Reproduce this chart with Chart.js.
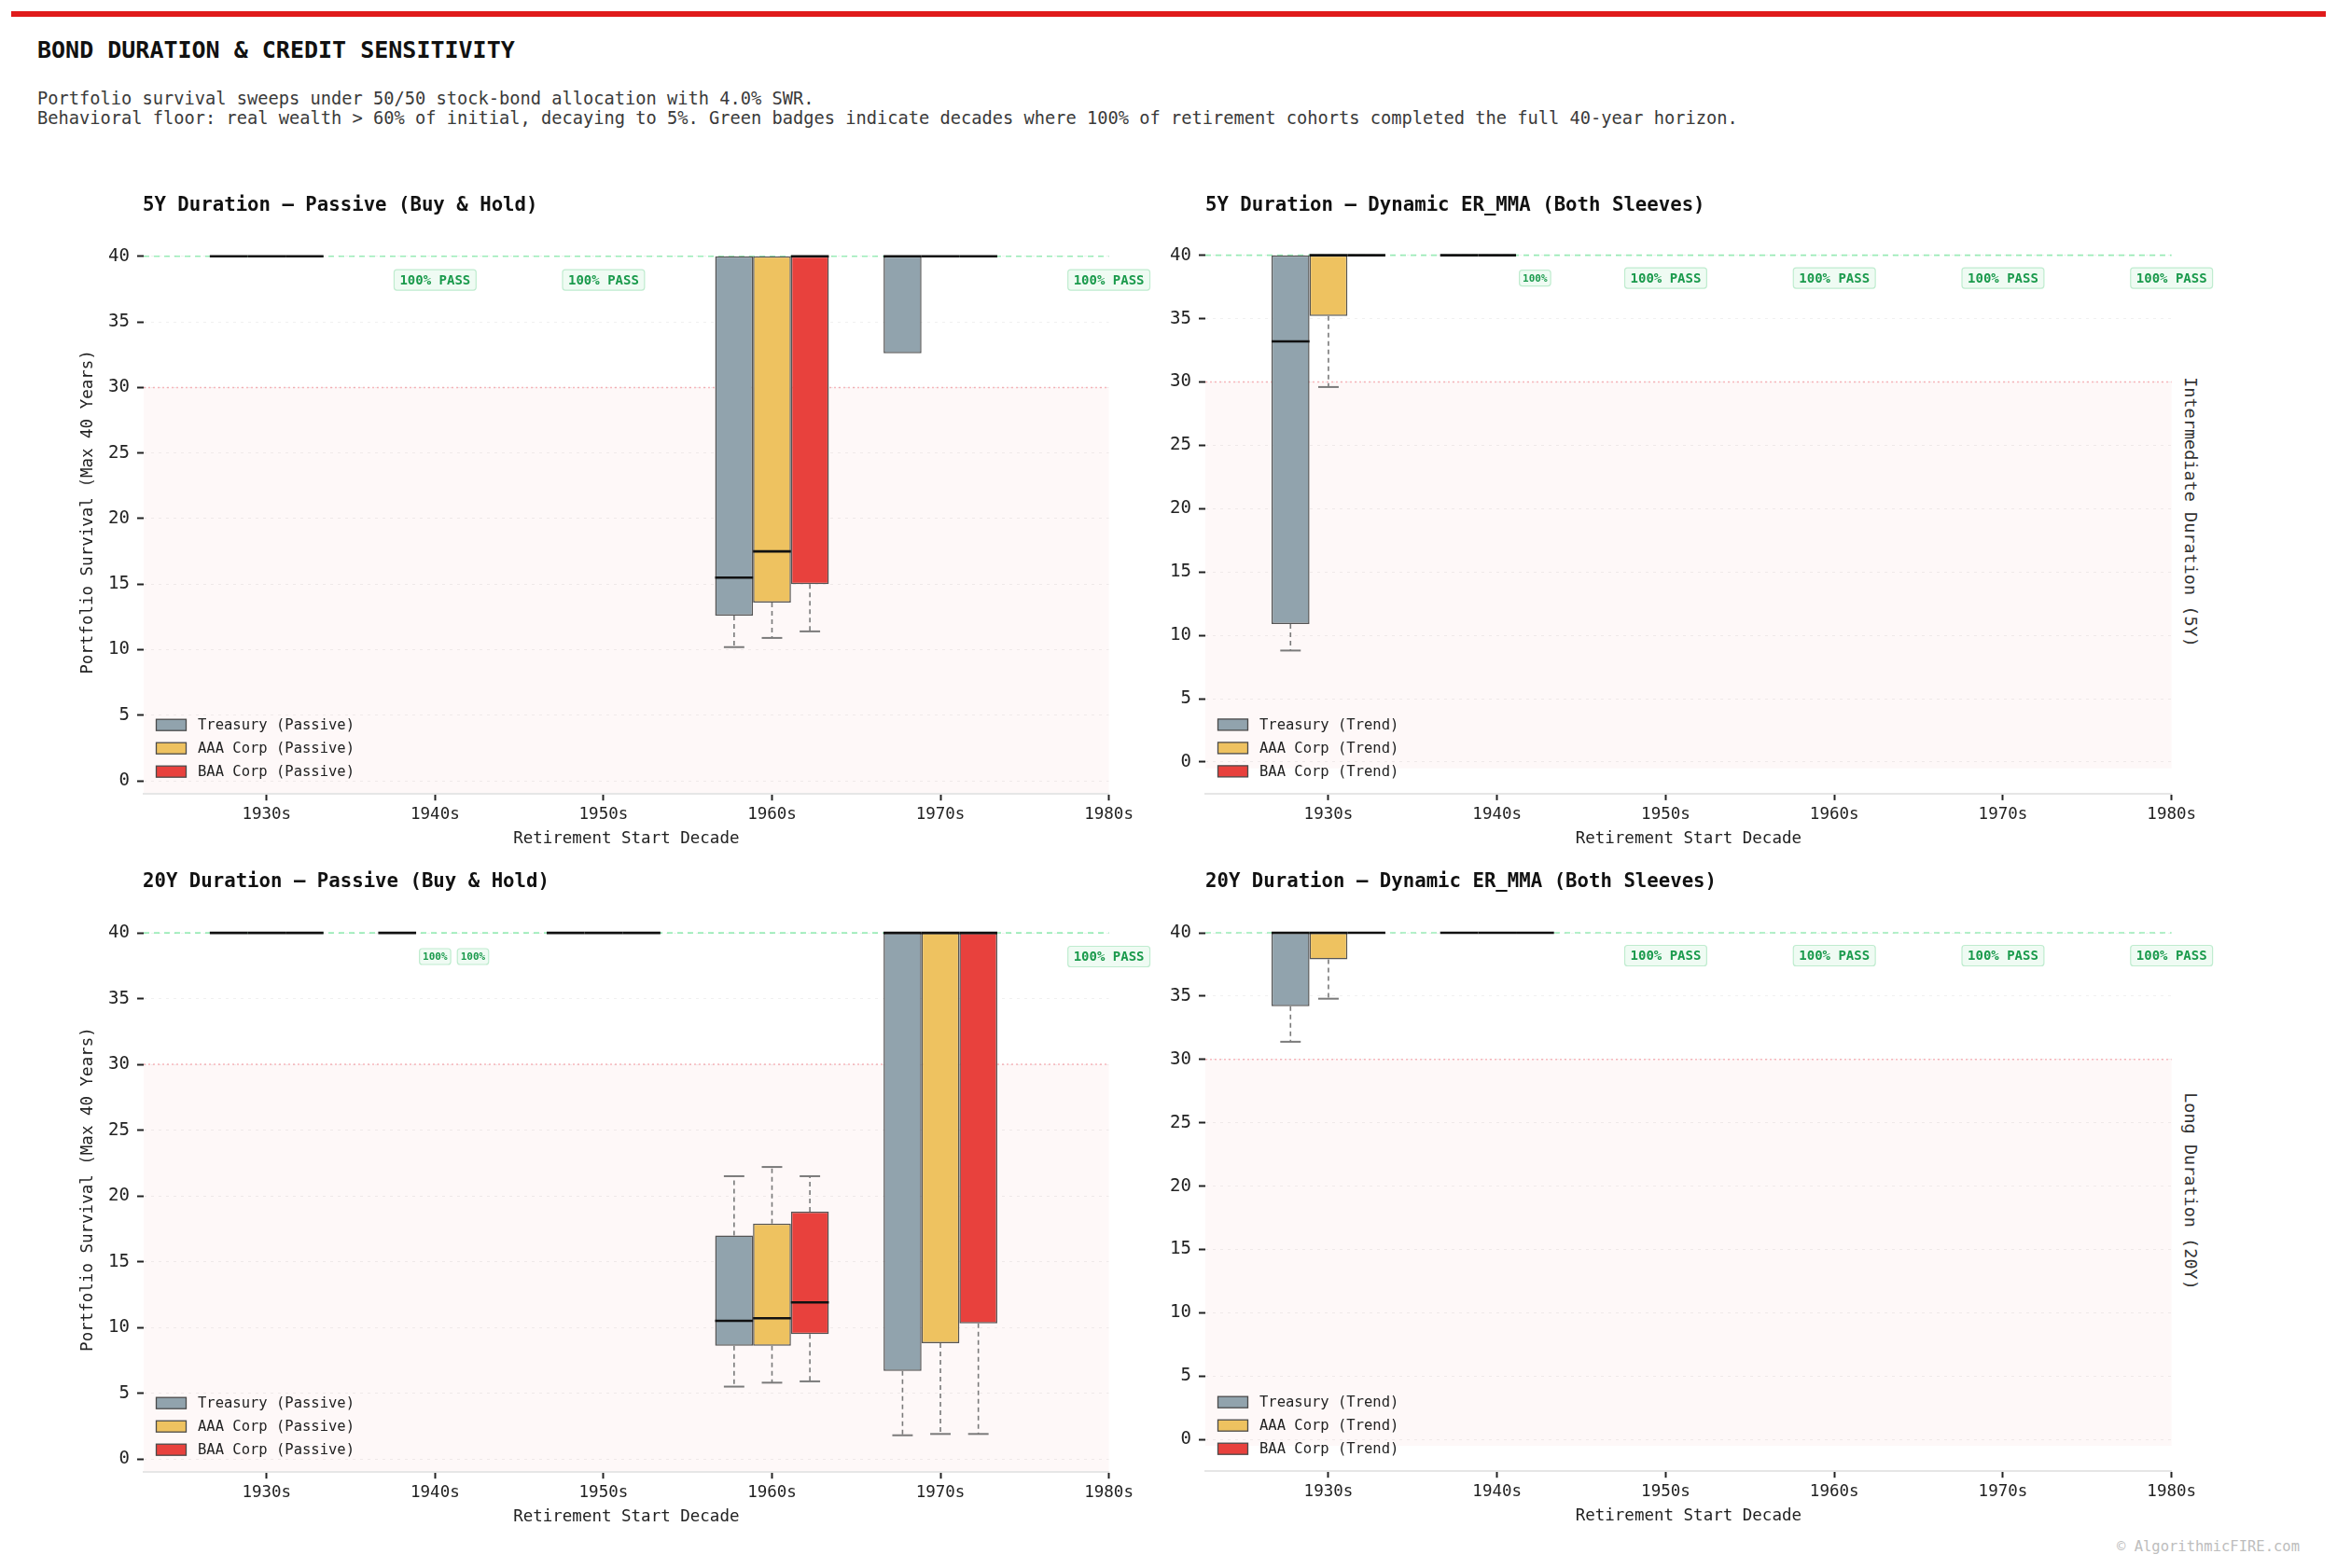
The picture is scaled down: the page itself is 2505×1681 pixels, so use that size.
<!DOCTYPE html>
<html>
<head>
<meta charset="utf-8">
<script src="https://cdn.jsdelivr.net/npm/chart.js@4.4.1/dist/chart.umd.min.js"></script>
<style>
html,body{margin:0;padding:0;background:#fff;}
body{width:2505px;height:1681px;position:relative;overflow:hidden;font-family:"DejaVu Sans Mono",monospace;}
.abs{position:absolute;white-space:nowrap;}
#bar{left:12px;top:12px;width:2481px;height:6px;background:#e01b1b;}
#title{left:40px;top:39px;font-size:25px;line-height:30px;font-weight:bold;color:#111;}
#sub{left:40px;top:95px;font-size:18.7px;line-height:21px;color:#3a3a3a;}
.ptitle{font-size:20.7px;line-height:24px;font-weight:bold;color:#111;z-index:2;}
.rlabel{writing-mode:vertical-rl;font-size:18.5px;line-height:22px;color:#333;transform:translate(-50%,-50%);}
#footer{right:40px;top:1648px;font-size:15.5px;line-height:20px;color:#bdbdbd;}
canvas{position:absolute;}
</style>
</head>
<body>
<div id="bar" class="abs"></div>
<div id="title" class="abs">BOND DURATION &amp; CREDIT SENSITIVITY</div>
<div id="sub" class="abs">Portfolio survival sweeps under 50/50 stock-bond allocation with 4.0% SWR.<br>Behavioral floor: real wealth &gt; 60% of initial, decaying to 5%. Green badges indicate decades where 100% of retirement cohorts completed the full 40-year horizon.</div>
<div class="abs ptitle" style="left:153px;top:207px;">5Y Duration — Passive (Buy &amp; Hold)</div>
<div class="abs ptitle" style="left:1292px;top:207px;">5Y Duration — Dynamic ER_MMA (Both Sleeves)</div>
<div class="abs ptitle" style="left:153px;top:932px;">20Y Duration — Passive (Buy &amp; Hold)</div>
<div class="abs ptitle" style="left:1292px;top:932px;">20Y Duration — Dynamic ER_MMA (Both Sleeves)</div>
<div class="abs rlabel" style="left:2348px;top:549px;">Intermediate Duration (5Y)</div>
<div class="abs rlabel" style="left:2348px;top:1277px;">Long Duration (20Y)</div>
<div id="footer" class="abs">© AlgorithmicFIRE.com</div>
<script>
// ---------------- DATA ----------------
const decades = ['1930s', '1940s', '1950s', '1960s', '1970s', '1980s'];
const bondSeries = ['Treasury', 'AAA Corp', 'BAA Corp'];
// Each entry: [lower whisker, Q1, median, Q3, upper whisker] (years survived); null = 100% of cohorts survived
const int5PassiveTreasury = [[40,40,40,40,40], null, null, [10.2,12.6,15.5,40,40], [32.6,32.6,40,40,40], null];
const int5PassiveAAA      = [[40,40,40,40,40], null, null, [10.9,13.6,17.5,40,40], [40,40,40,40,40], null];
const int5PassiveBAA      = [[40,40,40,40,40], null, null, [11.4,15.0,40,40,40], [40,40,40,40,40], null];
const int5TrendTreasury   = [[8.8,10.9,33.2,40,40], [40,40,40,40,40], null, null, null, null];
const int5TrendAAA        = [[29.6,35.2,40,40,40], [40,40,40,40,40], null, null, null, null];
const int5TrendBAA        = [[40,40,40,40,40], null, null, null, null, null];
const long20PassiveTreasury = [[40,40,40,40,40], [40,40,40,40,40], [40,40,40,40,40], [5.5,8.6,10.5,17.0,21.5], [1.8,6.7,40,40,40], null];
const long20PassiveAAA      = [[40,40,40,40,40], null, [40,40,40,40,40], [5.8,8.6,10.7,17.9,22.2], [1.9,8.8,40,40,40], null];
const long20PassiveBAA      = [[40,40,40,40,40], null, [40,40,40,40,40], [5.9,9.5,11.9,18.8,21.5], [1.9,10.3,40,40,40], null];
const long20TrendTreasury   = [[31.4,34.2,40,40,40], [40,40,40,40,40], null, null, null, null];
const long20TrendAAA        = [[34.8,37.9,40,40,40], [40,40,40,40,40], null, null, null, null];
const long20TrendBAA        = [[40,40,40,40,40], [40,40,40,40,40], null, null, null, null];
const horizonYears = 40;
const floorYears = 30;
const yTickStep = 5;

// ---------------- STYLE / LAYOUT ----------------
const FONT = "'DejaVu Sans Mono', monospace";
Chart.defaults.font.family = FONT;
const seriesColors = ['#91A3AD', '#EEC260', '#E8413D'];
const BOX_W = 0.225;           // box width in decade units
const X_MIN = -0.73, X_MAX = 5;
const Y_MAX = 42;
const BADGE_Y = 38.2;

const panels = [
  {area:{l:154, t:246.7, r:1188.6, b:851.2}, yMin:-1,   shadeMin:-1,   yTitle:true,  suffix:'(Passive)', series:[int5PassiveTreasury, int5PassiveAAA, int5PassiveBAA]},
  {area:{l:1292, t:246.5, r:2327.7, b:850.9}, yMin:-2.5, shadeMin:-0.5, yTitle:false, suffix:'(Trend)',   series:[int5TrendTreasury, int5TrendAAA, int5TrendBAA]},
  {area:{l:154, t:971.9, r:1188.6, b:1578.2}, yMin:-1,   shadeMin:-1,   yTitle:true,  suffix:'(Passive)', series:[long20PassiveTreasury, long20PassiveAAA, long20PassiveBAA]},
  {area:{l:1292, t:972.9, r:2327.7, b:1577.2}, yMin:-2.5, shadeMin:-0.5, yTitle:false, suffix:'(Trend)',   series:[long20TrendTreasury, long20TrendAAA, long20TrendBAA]}
];

function line(ctx, x1, y1, x2, y2) { ctx.beginPath(); ctx.moveTo(x1, y1); ctx.lineTo(x2, y2); ctx.stroke(); }
function rrect(ctx, x, y, w, h, r) {
  ctx.beginPath();
  ctx.moveTo(x + r, y); ctx.lineTo(x + w - r, y); ctx.quadraticCurveTo(x + w, y, x + w, y + r);
  ctx.lineTo(x + w, y + h - r); ctx.quadraticCurveTo(x + w, y + h, x + w - r, y + h);
  ctx.lineTo(x + r, y + h); ctx.quadraticCurveTo(x, y + h, x, y + h - r);
  ctx.lineTo(x, y + r); ctx.quadraticCurveTo(x, y, x + r, y); ctx.closePath();
}

const survivalPlugin = {
  id: 'survival',
  beforeDraw(chart, args, o) {
    const {ctx, chartArea: a, scales: {y}} = chart;
    const yt = y.getPixelForValue(floorYears), yb = y.getPixelForValue(o.shadeMin);
    ctx.save();
    ctx.fillStyle = 'rgba(239,68,68,0.035)';
    ctx.fillRect(a.left, yt, a.right - a.left, yb - yt);
    ctx.restore();
  },
  beforeDatasetsDraw(chart) {
    const {ctx, chartArea: a, scales: {y}} = chart;
    ctx.save();
    ctx.lineWidth = 1.6;
    ctx.strokeStyle = 'rgba(74,222,128,0.55)';
    ctx.setLineDash([6, 5]);
    const y40 = y.getPixelForValue(horizonYears);
    line(ctx, a.left, y40, a.right, y40);
    ctx.strokeStyle = 'rgba(239,100,110,0.45)';
    ctx.lineWidth = 1.5;
    ctx.setLineDash([2, 3]);
    const y30 = y.getPixelForValue(floorYears);
    line(ctx, a.left, y30, a.right, y30);
    ctx.restore();
  },
  afterDatasetsDraw(chart, args, o) {
    const {ctx, chartArea: a, scales: {x, y}} = chart;
    ctx.save();
    chart.data.datasets.forEach((ds, di) => {
      const meta = chart.getDatasetMeta(di);
      meta.data.forEach((bar, j) => {
        const [lo, q1, med, q3, hi] = ds.data[j].stats;
        const cx = bar.x, w = bar.width, cw = w * 0.27;
        ctx.strokeStyle = '#7a7a7a';
        ctx.lineWidth = 1.6;
        ctx.setLineDash([5, 4]);
        if (lo < q1) line(ctx, cx, y.getPixelForValue(q1), cx, y.getPixelForValue(lo));
        if (hi > q3) line(ctx, cx, y.getPixelForValue(q3), cx, y.getPixelForValue(hi));
        ctx.setLineDash([]);
        ctx.lineWidth = 2;
        if (lo < q1) line(ctx, cx - cw, y.getPixelForValue(lo), cx + cw, y.getPixelForValue(lo));
        if (hi > q3) line(ctx, cx - cw, y.getPixelForValue(hi), cx + cw, y.getPixelForValue(hi));
        ctx.strokeStyle = '#111';
        ctx.lineWidth = 2.6;
        const ym = y.getPixelForValue(med);
        line(ctx, cx - w / 2, ym, cx + w / 2, ym);
      });
    });
    // badges for 100% pass
    const yb = y.getPixelForValue(BADGE_Y);
    const badge = (xv, text, big) => {
      const px = x.getPixelForValue(xv);
      ctx.font = 'bold ' + (big ? 14 : 11) + 'px ' + FONT;
      const tw = ctx.measureText(text).width;
      const bw = tw + (big ? 12 : 7), bh = big ? 22 : 17;
      rrect(ctx, px - bw / 2, yb - bh / 2, bw, bh, 3);
      ctx.fillStyle = '#effbf3';
      ctx.fill();
      ctx.strokeStyle = '#bfeccf';
      ctx.lineWidth = 1.2;
      ctx.stroke();
      ctx.fillStyle = '#1a9a4c';
      ctx.textAlign = 'center';
      ctx.textBaseline = 'middle';
      ctx.fillText(text, px, yb + 1);
    };
    decades.forEach((d, i) => {
      const missing = o.series.map(s => s[i] === null);
      if (missing.every(Boolean)) badge(i, '100% PASS', true);
      else missing.forEach((m, s) => { if (m) badge(i + (s - 1) * BOX_W, '100%', false); });
    });
    // legend (lower left)
    ctx.font = '15.5px ' + FONT;
    ctx.textAlign = 'left';
    ctx.textBaseline = 'middle';
    chart.data.datasets.forEach((ds, di) => {
      const cy = a.bottom - 74 + di * 25;
      ctx.fillStyle = ds.backgroundColor;
      ctx.fillRect(a.left + 13.5, cy - 6, 32, 12);
      ctx.strokeStyle = '#4a4a4a';
      ctx.lineWidth = 1.3;
      ctx.strokeRect(a.left + 13.5, cy - 6, 32, 12);
      ctx.fillStyle = '#222';
      ctx.fillText(ds.label, a.left + 58, cy + 1);
    });
    ctx.restore();
  }
};

panels.forEach((p, pi) => {
  const A = p.area;
  const Wy = p.yTitle ? 70.5 : 48;
  const Hx = 59;
  const cl = Math.floor(A.l - Wy - 10), ct = Math.floor(A.t - 26);
  const cw = Math.round(A.r - cl + 60), chh = Math.round(A.b - ct + Hx + 20);
  const cv = document.createElement('canvas');
  cv.width = cw; cv.height = chh;
  cv.style.left = cl + 'px'; cv.style.top = ct + 'px';
  cv.style.width = cw + 'px'; cv.style.height = chh + 'px';
  document.body.appendChild(cv);
  const datasets = p.series.map((s, si) => ({
    label: bondSeries[si] + ' ' + p.suffix,
    backgroundColor: seriesColors[si],
    borderColor: '#555',
    borderWidth: 1.5,
    borderSkipped: false,
    data: s.map((st, i) => st ? {x: i, y: [st[1], st[3]], stats: st} : null).filter(v => v)
  }));
  new Chart(cv, {
    type: 'bar',
    data: {datasets},
    plugins: [survivalPlugin],
    options: {
      responsive: false,
      animation: false,
      events: [],
      categoryPercentage: 3 * BOX_W,
      barPercentage: 1,
      layout: {padding: {left: A.l - Wy - cl, top: A.t - ct, right: cl + cw - A.r, bottom: ct + chh - A.b - Hx}},
      plugins: {
        legend: {display: false},
        tooltip: {enabled: false},
        survival: {series: p.series, shadeMin: p.shadeMin}
      },
      scales: {
        x: {
          type: 'linear',
          offset: false,
          min: X_MIN, max: X_MAX,
          afterFit: s => { s.height = Hx; },
          ticks: {stepSize: 1, includeBounds: false, padding: 5, color: '#222', font: {size: 17.5},
                  callback: v => decades[v] ?? ''},
          grid: {offset: false, drawOnChartArea: false, tickLength: 7, tickColor: '#222', tickWidth: 2},
          border: {display: true, color: '#e6e6e6', width: 2},
          title: {display: true, text: 'Retirement Start Decade', color: '#222', font: {size: 17.5}, padding: 0}
        },
        y: {
          type: 'linear',
          min: p.yMin, max: Y_MAX,
          afterFit: s => { s.width = Wy; },
          ticks: {stepSize: yTickStep, includeBounds: false, padding: 8, color: '#222', font: {size: 19}},
          grid: {color: 'rgba(0,0,0,0.06)', lineWidth: 1, tickLength: 7, tickColor: '#222', tickWidth: 2},
          border: {display: false, dash: [3, 5]},
          title: {display: p.yTitle, text: 'Portfolio Survival (Max 40 Years)', color: '#222', font: {size: 17.5}, padding: 0}
        }
      }
    }
  });
});
</script>
</body>
</html>
